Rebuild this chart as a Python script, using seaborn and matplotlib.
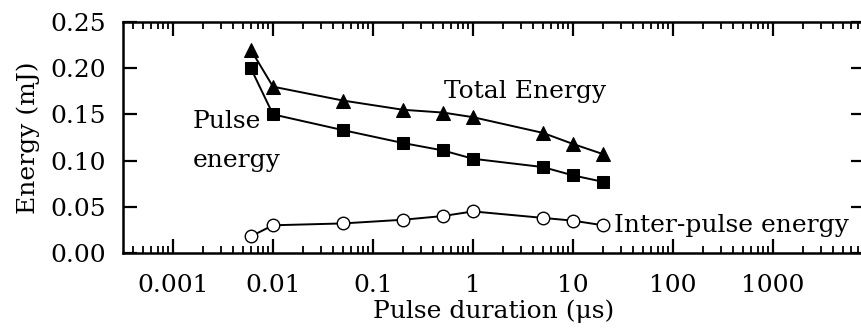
import matplotlib
matplotlib.use("Agg")
import matplotlib.pyplot as plt
import seaborn as sns
import pandas as pd
import numpy as np
from matplotlib.ticker import LogLocator, FixedLocator, FixedFormatter, NullFormatter

duration = [0.006, 0.01, 0.05, 0.2, 0.5, 1, 5, 10, 20]
total_energy = [0.220, 0.180, 0.165, 0.155, 0.152, 0.147, 0.130, 0.118, 0.107]
pulse_energy = [0.200, 0.150, 0.133, 0.119, 0.111, 0.102, 0.093, 0.084, 0.077]
inter_energy = [0.018, 0.030, 0.032, 0.036, 0.040, 0.045, 0.038, 0.035, 0.030]
xtick_vals = [0.001, 0.01, 0.1, 1, 10, 100, 1000]
xtick_labels = ["0.001", "0.01", "0.1", "1", "10", "100", "1000"]
ytick_vals = [0.00, 0.05, 0.10, 0.15, 0.20, 0.25]
ytick_labels = ["0.00", "0.05", "0.10", "0.15", "0.20", "0.25"]

sns.set_style("ticks")
plt.rcParams['font.family'] = ['DejaVu Serif']
plt.rcParams['mathtext.fontset'] = 'dejavuserif'
for k in ['text.color', 'axes.labelcolor', 'xtick.color', 'ytick.color', 'axes.edgecolor']:
    plt.rcParams[k] = 'black'

FS = 18
fig = plt.figure(figsize=(8.62, 3.29), dpi=100)
ax = fig.add_axes([123/862, 76/329, 742/862, 231/329])

df = pd.DataFrame({"duration": duration, "total": total_energy,
                   "pulse": pulse_energy, "inter": inter_energy})

sns.lineplot(data=df, x="duration", y="total", ax=ax, color="black", lw=1.4,
             marker="^", markersize=10, markerfacecolor="black", markeredgecolor="black")
sns.lineplot(data=df, x="duration", y="pulse", ax=ax, color="black", lw=1.4,
             marker="s", markersize=8, markerfacecolor="black", markeredgecolor="black")
sns.lineplot(data=df, x="duration", y="inter", ax=ax, color="black", lw=1.4,
             marker="o", markersize=9, markerfacecolor="white", markeredgecolor="black",
             markeredgewidth=1.0)

ax.set_xscale("log")
ax.set_xlim(10**-3.5, 10**3.92)
ax.set_ylim(0, 0.25)

ax.xaxis.set_major_locator(FixedLocator(xtick_vals))
ax.xaxis.set_major_formatter(FixedFormatter(xtick_labels))
ax.xaxis.set_minor_locator(LogLocator(base=10, subs=np.arange(2, 10), numticks=20))
ax.xaxis.set_minor_formatter(NullFormatter())
ax.yaxis.set_major_locator(FixedLocator(ytick_vals))
ax.yaxis.set_major_formatter(FixedFormatter(ytick_labels))

ax.tick_params(axis="x", which="major", direction="in", length=10, width=1.6,
               top=True, bottom=True, labelsize=FS, pad=15)
ax.tick_params(axis="x", which="minor", direction="in", length=5, width=1.3,
               top=True, bottom=True)
ax.tick_params(axis="y", which="major", direction="in", length=10, width=1.6,
               left=True, right=True, labelsize=FS, pad=12)
for s in ax.spines.values():
    s.set_linewidth(1.8)
    s.set_color("black")

ax.set_xlabel("Pulse duration (μs)", fontsize=FS, labelpad=2)
ax.set_ylabel("Energy (mJ)", fontsize=FS, labelpad=8)

ax.text(3.3, 0.168, "Total Energy", fontsize=FS, ha="center", va="baseline")
ax.text(0.00158, 0.1353, "Pulse", fontsize=FS, ha="left", va="baseline")
ax.text(0.00158, 0.093, "energy", fontsize=FS, ha="left", va="baseline")
ax.text(25.7, 0.0227, "Inter-pulse energy", fontsize=FS, ha="left", va="baseline")

fig.savefig("out.png", dpi=100)
